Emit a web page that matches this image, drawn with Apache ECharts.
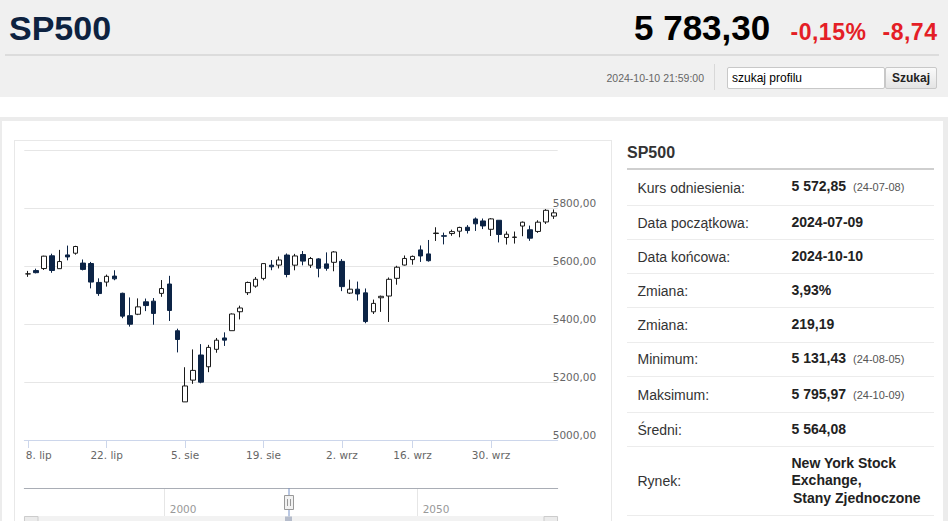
<!DOCTYPE html>
<html><head><meta charset="utf-8">
<script src="https://cdn.jsdelivr.net/npm/echarts@6/dist/echarts.min.js"></script>
<style>
html,body{margin:0;padding:0;width:948px;height:521px;overflow:hidden;background:#fff;font-family:"Liberation Sans",Arial,sans-serif;}
.abs{position:absolute;white-space:nowrap;}
#hdr{position:absolute;left:0;top:0;width:948px;height:97px;background:#f0f0f0;}
#sp{left:9px;top:10.5px;font-size:34px;line-height:34px;font-weight:bold;color:#0d2240;}
#price{left:634px;top:10.4px;font-size:35px;line-height:35px;font-weight:bold;color:#000;}
.red{font-size:23px;line-height:23px;font-weight:bold;color:#e41e26;letter-spacing:0.5px;top:20.5px;}
#hsep{left:5px;top:54px;width:934px;height:0;border-top:2px solid #dcdcdc;}
#dt{right:244px;top:73.3px;font-size:10.5px;line-height:10.5px;color:#666;}
#vsep{left:714px;top:64px;width:1px;height:26px;background:#d8d8d8;}
#inp{left:727px;top:66.5px;width:152px;height:20px;border:1px solid #c8c8c8;border-radius:2px;background:#fff;font-size:12px;line-height:20px;color:#000;padding-left:4px;box-sizing:content-box;}
#btn{left:885px;top:66.5px;width:50px;height:20px;border:1px solid #c8c8c8;border-radius:2px;background:linear-gradient(#fafafa,#e4e4e4);font-size:12px;line-height:20px;font-weight:bold;color:#222;text-align:center;}
#band{left:0;top:116.5px;width:948px;height:4px;background:#ececec;}
#lb{left:0;top:120px;width:2px;height:401px;background:#ececec;}
#rb{left:943px;top:120px;width:5px;height:401px;background:#ececec;}
#panel{left:13.5px;top:140px;width:596px;height:400px;border:1px solid #e8e8e8;}
#rt{left:627px;top:145px;font-size:16px;line-height:16px;font-weight:bold;color:#333;}
#rtl{left:627px;top:168px;width:307px;height:2px;background:#cfcfcf;}
.row{position:absolute;left:627px;width:307px;border-bottom:1px solid #ececec;display:flex;align-items:center;font-size:14px;color:#333;}
.row .l{position:absolute;left:10.5px;}
.row .v{position:absolute;left:164.5px;font-weight:bold;color:#222;line-height:17.3px;}
.row .s{font-size:11px;font-weight:normal;color:#555;margin-left:7px;}
.ind{padding-left:1.5px;}
#chart{position:absolute;left:0;top:0;width:948px;height:521px;}
</style></head>
<body>
<div id="hdr"></div>
<div class="abs" id="sp">SP500</div>
<div class="abs" id="price">5&nbsp;783,30</div>
<div class="abs red" style="left:790.5px">-0,15%</div>
<div class="abs red" style="left:882.5px">-8,74</div>
<div class="abs" id="hsep"></div>
<div class="abs" id="dt">2024-10-10 21:59:00</div>
<div class="abs" id="vsep"></div>
<div class="abs" id="inp">szukaj profilu</div>
<div class="abs" id="btn">Szukaj</div>
<div class="abs" id="band"></div>
<div class="abs" id="lb"></div>
<div class="abs" id="rb"></div>
<div class="abs" id="panel"></div>
<div class="abs" id="rt">SP500</div>
<div class="abs" id="rtl"></div>
<div id="rows"></div>
<div id="chart"></div>
<script>
// ---- data ----
const dates = ['2024-07-08','2024-07-09','2024-07-10','2024-07-11','2024-07-12','2024-07-15','2024-07-16','2024-07-17','2024-07-18','2024-07-19','2024-07-22','2024-07-23','2024-07-24','2024-07-25','2024-07-26','2024-07-29','2024-07-30','2024-07-31',
'2024-08-01','2024-08-02','2024-08-05','2024-08-06','2024-08-07','2024-08-08','2024-08-09','2024-08-12','2024-08-13','2024-08-14','2024-08-15','2024-08-16','2024-08-19','2024-08-20','2024-08-21','2024-08-22','2024-08-23','2024-08-26','2024-08-27','2024-08-28','2024-08-29','2024-08-30',
'2024-09-03','2024-09-04','2024-09-05','2024-09-06','2024-09-09','2024-09-10','2024-09-11','2024-09-12','2024-09-13','2024-09-16','2024-09-17','2024-09-18','2024-09-19','2024-09-20','2024-09-23','2024-09-24','2024-09-25','2024-09-26','2024-09-27','2024-09-30',
'2024-10-01','2024-10-02','2024-10-03','2024-10-04','2024-10-07','2024-10-08','2024-10-09','2024-10-10'];
const opens = [5572.75,5584.24,5591.26,5635.21,5590.76,5638.16,5644.09,5610.07,5608.56,5543.37,5544.54,5565.30,5505.84,5428.70,5433.67,5476.55,5478.73,5505.59,5537.84,5376.63,
5131.43,5206.42,5293.13,5252.57,5312.70,5351.88,5376.98,5442.29,5508.00,5530.50,5557.23,5602.88,5603.09,5637.77,5602.89,5639.66,5602.89,5624.51,5607.30,5612.74,
5616.00,5506.68,5520.08,5507.33,5442.07,5490.51,5496.42,5557.48,5603.34,5622.00,5655.51,5641.68,5712.00,5704.50,5711.90,5720.00,5733.65,5762.22,5755.36,5726.52,
5757.73,5698.19,5698.56,5737.80,5725.00,5719.14,5751.80,5772.00];
const closes = [5572.85,5576.98,5633.91,5584.54,5615.35,5631.22,5667.20,5588.27,5544.59,5505.00,5564.41,5555.74,5427.13,5399.22,5459.10,5463.54,5436.44,5522.30,5446.68,5346.56,
5186.33,5240.03,5199.50,5319.31,5344.16,5344.39,5434.43,5455.21,5543.22,5554.25,5608.25,5597.12,5620.85,5570.64,5634.61,5616.84,5625.80,5592.18,5591.96,5648.40,
5528.93,5520.07,5503.41,5408.42,5471.05,5495.52,5554.13,5595.76,5626.02,5633.09,5634.58,5618.26,5713.64,5702.55,5718.57,5732.93,5722.26,5745.37,5738.17,5762.48,
5708.75,5709.54,5699.94,5751.07,5695.94,5751.13,5792.04,5783.30];
const lows = [5562.51,5574.57,5586.44,5576.53,5590.44,5619.55,5639.02,5584.81,5522.81,5497.04,5529.04,5550.90,5419.98,5390.95,5430.70,5444.44,5397.55,5493.75,5410.42,5302.03,
5131.43,5193.56,5195.54,5233.85,5300.81,5324.37,5376.98,5415.74,5500.00,5525.17,5550.74,5585.50,5591.57,5560.95,5585.16,5602.34,5593.48,5560.99,5583.71,5581.79,
5513.28,5503.62,5480.78,5402.62,5434.49,5441.72,5406.96,5535.50,5601.65,5604.53,5614.05,5615.08,5686.42,5674.49,5704.22,5698.99,5712.06,5721.01,5727.34,5703.53,
5681.28,5674.00,5677.37,5702.67,5686.85,5714.38,5745.02,5762.41];
const highs = [5583.11,5590.75,5635.39,5642.45,5655.56,5670.39,5669.67,5622.49,5614.05,5557.50,5570.36,5585.34,5508.04,5491.59,5488.32,5487.74,5489.46,5551.51,5566.16,5383.89,
5250.89,5312.34,5330.64,5328.03,5351.79,5371.20,5436.50,5463.22,5546.23,5561.98,5608.30,5620.51,5632.68,5643.22,5641.82,5651.62,5631.18,5627.03,5646.95,5651.37,
5623.89,5552.74,5546.30,5522.47,5484.20,5497.91,5560.41,5600.71,5636.27,5636.05,5670.81,5689.75,5733.57,5715.14,5725.36,5735.32,5741.03,5767.37,5763.78,5765.14,
5757.73,5719.14,5718.78,5753.42,5739.34,5757.60,5795.97,5795.03];
const xTickIndex = [0,10,20,30,40,49,59];
const xTickText = ['8. lip','22. lip','5. sie','19. sie','2. wrz','16. wrz','30. wrz'];
const yMin = 5000, yMax = 6000, yStep = 200;
const navMin = 1972.24, navMax = 2077.68, navStep = 50;
const statLabels = ['Kurs odniesienia:','Data początkowa:','Data końcowa:','Zmiana:','Zmiana:','Minimum:','Maksimum:','Średni:','Rynek:'];
const statValues = ['5 572,85','2024-07-09','2024-10-10','3,93%','219,19','5 131,43','5 795,97','5 564,08','New York Stock<br>Exchange,<br><span class="ind">Stany Zjednoczone</span>'];
const statNotes = ['(24-07-08)','','','','','(24-08-05)','(24-10-09)','',''];

// ---- stats table ----
const rowEdges = [170, 206, 240, 274.3, 308.3, 342.7, 377.3, 413.3, 447.3, 516];
let html = '';
statLabels.forEach((l, i) => {
  const top = rowEdges[i], h = rowEdges[i+1] - rowEdges[i] - 1;
  html += '<div class="row" style="top:' + top + 'px;height:' + h + 'px"><span class="l">' + l + '</span><span class="v">' +
    statValues[i] + (statNotes[i] ? '<span class="s">' + statNotes[i] + '</span>' : '') + '</span></div>';
});
document.getElementById('rows').innerHTML = html;

// ---- chart ----
const tickSet = new Set(xTickIndex);
const ohlc = dates.map((d, i) => [opens[i], closes[i], lows[i], highs[i]]);
const chart = echarts.init(document.getElementById('chart'), null, {renderer: 'svg'});
const F = 'DejaVu Sans';
chart.setOption({
  animation: false,
  backgroundColor: 'transparent',
  grid: [
    {left: 24.3, top: 150, width: 533.4, height: 290},
    {left: 24.3, top: 488.3, width: 533.4, height: 60}
  ],
  xAxis: [{
    gridIndex: 0, type: 'category', data: dates, boundaryGap: true,
    axisLine: {lineStyle: {color: '#ccd6eb', width: 1}},
    axisTick: {show: true, alignWithLabel: true, length: 8, lineStyle: {color: '#ccd6eb'},
      interval: (idx) => tickSet.has(idx)},
    axisLabel: {
      interval: (idx) => tickSet.has(idx), color: '#666', fontSize: 10.5, fontFamily: F, margin: 9,
      formatter: (v, idx) => {
        const k = xTickIndex.indexOf(idx);
        if (k < 0) return '';
        return k === 0 ? '{f|' + xTickText[k] + '}' : xTickText[k];
      },
      rich: {f: {padding: [0, 0, 0, 21], color: '#666', fontSize: 10.5, fontFamily: F}}
    },
    splitLine: {show: false}
  }, {
    gridIndex: 1, type: 'value', position: 'top', min: navMin, max: navMax,
    minInterval: navStep, maxInterval: navStep,
    axisLine: {show: true, onZero: false, lineStyle: {color: '#a9adb5'}},
    axisTick: {show: false},
    axisLabel: {inside: true, margin: 15, align: 'left', padding: [0, 0, 0, 5], color: '#999', fontSize: 10.5, fontFamily: F,
      showMinLabel: false, showMaxLabel: false, verticalAlign: 'top', formatter: (v) => String(v)},
    splitLine: {show: true, showMinLine: false, showMaxLine: false, lineStyle: {color: '#e6e6e6'}}
  }],
  yAxis: [{
    gridIndex: 0, type: 'value', position: 'right', min: yMin, max: yMax, interval: yStep,
    axisLine: {show: false}, axisTick: {show: false},
    splitLine: {lineStyle: {color: '#e6e6e6'}},
    axisLabel: {showMaxLabel: false, margin: -5, verticalAlign: 'bottom', color: '#666', fontSize: 10.5, fontFamily: F,
      formatter: (v) => v.toFixed(2).replace('.', ',')}
  }, {
    gridIndex: 1, type: 'value', show: false, min: 0, max: 1
  }],
  series: [{
    type: 'candlestick', xAxisIndex: 0, yAxisIndex: 0, data: ohlc, barWidth: 5,
    itemStyle: {color: '#ffffff', color0: '#0c2446', borderColor: '#1a1a1a', borderColor0: '#0c2446', borderWidth: 1}
  }, {
    type: 'line', xAxisIndex: 1, yAxisIndex: 1, data: [], silent: true
  }],
  graphic: [
    {type: 'rect', silent: true, z: 10, shape: {x: 24.3, y: 516.5, width: 533.4, height: 10}, style: {fill: '#f2f2f2', stroke: '#f2f2f2'}},
    {type: 'rect', silent: true, z: 11, shape: {x: 24.5, y: 516.5, width: 13.5, height: 10}, style: {fill: '#ebebeb', stroke: '#cccccc'}},
    {type: 'rect', silent: true, z: 11, shape: {x: 544, y: 516.5, width: 13.5, height: 10}, style: {fill: '#ebebeb', stroke: '#cccccc'}},
    {type: 'rect', silent: true, z: 11, shape: {x: 285, y: 516.5, width: 7, height: 10}, style: {fill: '#b5bccb'}},
    {type: 'rect', silent: true, z: 11, shape: {x: 288, y: 488.3, width: 2, height: 28}, style: {fill: 'rgba(102,133,194,0.45)'}},
    {type: 'rect', silent: true, z: 12, shape: {x: 284.5, y: 495.5, width: 9, height: 14}, style: {fill: '#f2f2f2', stroke: '#999999', lineWidth: 1}},
    {type: 'line', silent: true, z: 13, shape: {x1: 287.5, y1: 499, x2: 287.5, y2: 506}, style: {stroke: '#999999', lineWidth: 1}},
    {type: 'line', silent: true, z: 13, shape: {x1: 290.5, y1: 499, x2: 290.5, y2: 506}, style: {stroke: '#999999', lineWidth: 1}}
  ]
});
</script>
</body></html>
